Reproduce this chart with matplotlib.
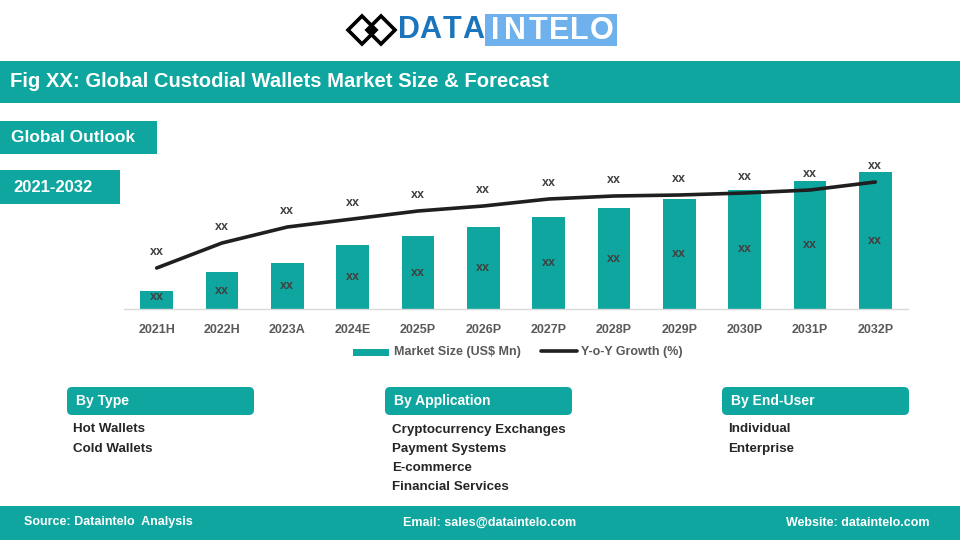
import matplotlib
matplotlib.use("Agg")
import matplotlib.pyplot as plt
from matplotlib.patches import Rectangle, FancyBboxPatch, Polygon

plt.rcParams['font.family'] = ['Liberation Sans', 'DejaVu Sans']

TEAL = '#0FA6A0'
GREY = '#595959'
DARK = '#1F1F1F'

categories = ['2021H', '2022H', '2023A', '2024E', '2025P', '2026P', '2027P', '2028P', '2029P', '2030P', '2031P', '2032P']
market_size = [18, 37, 46, 64, 73, 82, 92, 101, 110, 119, 128, 137]
yoy_growth = [41, 66, 82, 90, 98, 103, 110, 113, 114, 116, 119, 127]
bar_labels = ['xx'] * 12
line_labels = ['xx'] * 12
title = 'Fig XX: Global Custodial Wallets Market Size & Forecast'
by_type = ['Hot Wallets', 'Cold Wallets']
by_application = ['Cryptocurrency Exchanges', 'Payment Systems', 'E-commerce', 'Financial Services']
by_end_user = ['Individual', 'Enterprise']

fig = plt.figure(figsize=(9.6, 5.4), dpi=100, facecolor='white')

# page layer in pixel coordinates
bg = fig.add_axes([0, 0, 1, 1])
bg.set_xlim(0, 960)
bg.set_ylim(540, 0)
bg.axis('off')


def band(x, y, w, h):
    bg.add_patch(Rectangle((x, y), w, h, fc=TEAL, ec='none'))


def rounded(x, y, w, h):
    bg.add_patch(FancyBboxPatch((x + 5, y + 5), w - 10, h - 10, boxstyle='round,pad=5,rounding_size=5',
                                fc=TEAL, ec='none'))


band(0, 61, 960, 42)
bg.text(10, 81.5, title, color='white', fontsize=14.6, fontweight='bold', va='center')
band(0, 121, 157, 33)
bg.text(11, 137.5, 'Global Outlook', color='white', fontsize=12.4, fontweight='bold', va='center')
band(0, 170, 120, 34)
bg.text(13, 187.5, '2021-2032', color='white', fontsize=12, fontweight='bold', va='center')

# logo
for cx in (362, 381):
    bg.add_patch(Polygon([(cx - 14, 30), (cx, 16), (cx + 14, 30), (cx, 44)], closed=True,
                         fc='none', ec='black', lw=2.6))
bg.add_patch(Polygon([(371.5, 27), (374.5, 30), (371.5, 33), (368.5, 30)], closed=True, fc='black', ec='none'))
bg.add_patch(Rectangle((485, 14), 132, 32, fc='#6FB1EC', ec='none'))
for ch, x in zip('DATA', (409, 430, 452, 473)):
    bg.text(x, 30.5, ch, color='#1B75BC', fontsize=22, fontweight='bold', ha='center', va='center')
for ch, x in zip('INTELO', (495, 515, 538, 559, 579, 602)):
    bg.text(x, 31, ch, color='white', fontsize=22, fontweight='bold', ha='center', va='center')

# segment blocks
for x, w, head, tx, items in [(67, 187, 'By Type', 73, by_type),
                              (385, 187, 'By Application', 392, by_application),
                              (722, 187, 'By End-User', 728, by_end_user)]:
    rounded(x, 387, w, 28)
    bg.text(x + 9, 401.5, head, color='white', fontsize=10, fontweight='bold', va='center')
    for i, item in enumerate(items):
        bg.text(tx, 429.5 + i * 19.3, item, color='#262626', fontsize=9.6, fontweight='bold', va='center')

# footer
band(0, 506, 960, 34)
bg.text(24, 522.5, 'Source: Dataintelo  Analysis', color='white', fontsize=9, fontweight='bold', va='center')
bg.text(490, 522.5, 'Email: sales@dataintelo.com', color='white', fontsize=9, fontweight='bold', va='center', ha='center')
bg.text(929, 522.5, 'Website: dataintelo.com', color='white', fontsize=9, fontweight='bold', va='center', ha='right')

# chart
ax = fig.add_axes([124 / 960, (540 - 309) / 540, 784 / 960, 150 / 540])
ax.patch.set_alpha(0)
x = list(range(len(categories)))
bars = ax.bar(x, market_size, width=0.505, color=TEAL, label='Market Size (US$ Mn)', zorder=2)
line, = ax.plot(x, yoy_growth, color=DARK, lw=2.6, label='Y-o-Y Growth (%)', zorder=3, solid_capstyle='round')
ax.set_xlim(-0.5, 11.5)
ax.set_ylim(0, 150)
ax.set_yticks([])
ax.set_xticks(x, categories)
ax.tick_params(axis='x', length=0, pad=11, labelsize=9, labelcolor=GREY)
for t in ax.get_xticklabels():
    t.set_fontweight('bold')
for s in ('top', 'left', 'right'):
    ax.spines[s].set_visible(False)
ax.spines['bottom'].set_color('#D9D9D9')
ax.spines['bottom'].set_linewidth(1)

for xi, v, lab in zip(x, market_size, bar_labels):
    ax.annotate(lab, (xi, v * 0.5), xytext=(0, 0 if v > 30 else 2), textcoords='offset points', ha='center', va='center',
                fontsize=9, fontweight='bold', color='#404040', zorder=4)
for xi, v, lab in zip(x, yoy_growth, line_labels):
    ax.annotate(lab, (xi, v), xytext=(0, 11.5), textcoords='offset points', ha='center', va='center',
                fontsize=9, fontweight='bold', color='#404040', zorder=4)

leg = fig.legend(handles=[bars, line], loc='center', bbox_to_anchor=(518 / 960, (540 - 352.5) / 540),
                 ncol=2, frameon=False, fontsize=9, columnspacing=1.6, handlelength=2.9, handletextpad=0.35,
                 borderpad=0)
for t in leg.get_texts():
    t.set_color(GREY)
    t.set_fontweight('bold')
leg.get_patches()[0].set_height(5) if leg.get_patches() else None

fig.savefig('out.png', dpi=100)
